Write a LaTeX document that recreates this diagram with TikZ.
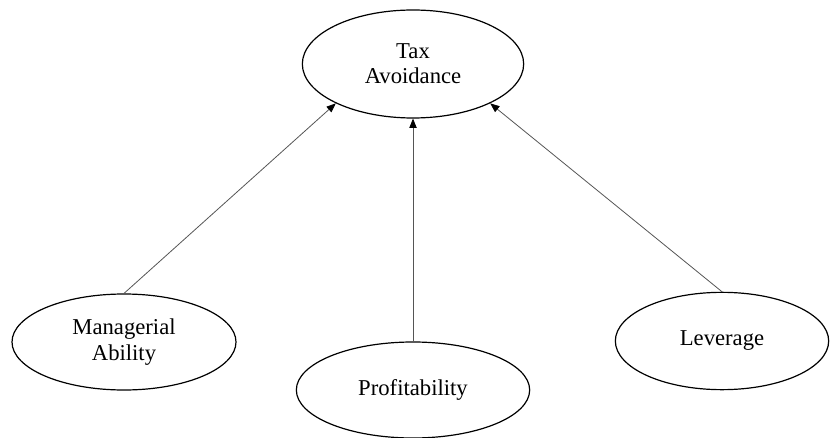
\documentclass[tikz,border=0pt]{standalone}
\usepackage{fontspec}
\setmainfont{Liberation Serif}
\usetikzlibrary{arrows.meta,shapes.geometric}
\definecolor{edge}{HTML}{555555}

\begin{document}
\begin{tikzpicture}[x=0.75pt, y=-0.75pt,
    var/.style={ellipse, draw, line width=0.9pt, inner sep=0pt, align=center,
      font=\fontsize{17}{19}\selectfont},
    link/.style={edge, line width=0.6pt, -{Triangle[length=7pt,width=5.5pt,black]}}]
  \useasboundingbox (0,0) rectangle (830,438);

  % variables
  \node[var, minimum width=166pt, minimum height=81pt] (tax) at (413,64) {Tax\\Avoidance};
  \node[var, minimum width=168pt, minimum height=72pt] (mgr) at (124,342) {Managerial\\Ability};
  \node[var, minimum width=175pt, minimum height=72pt] (prof) at (413,390) {Profitability};
  \node[var, minimum width=160pt, minimum height=73pt] (lev) at (722,341) {Leverage};

  % effects on tax avoidance
  \draw[link] (mgr.north) -- (tax.207);
  \draw[link] (prof.north) -- (tax.south);
  \draw[link] (lev.north) -- (tax.333);
\end{tikzpicture}
\end{document}
